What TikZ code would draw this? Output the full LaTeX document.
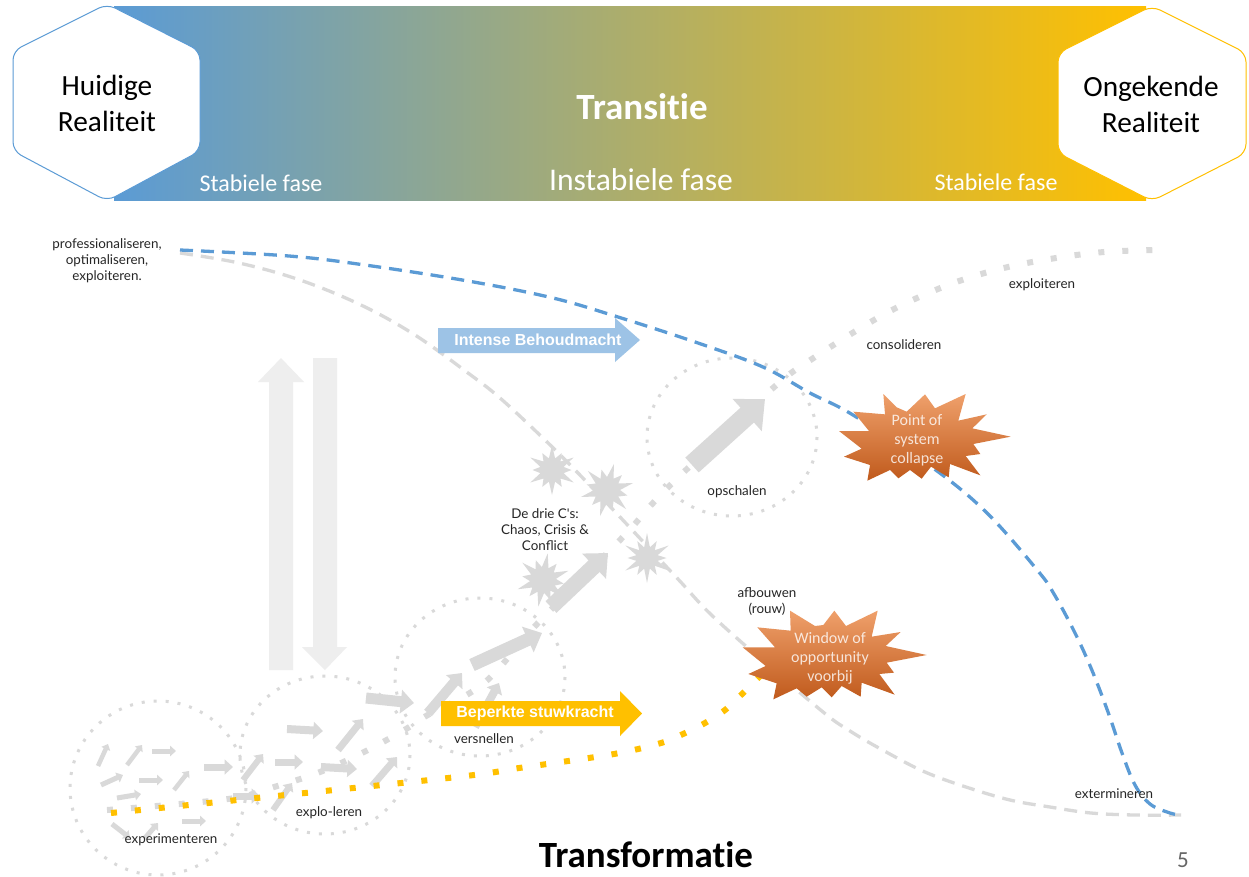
\documentclass[tikz,border=0pt]{standalone}
\usepackage{fontspec}
\usetikzlibrary{arrows.meta}
\newfontfamily\carl[Ligatures=CommonOff]{Carlito}
\newfontfamily\lab{Lato}
\newfontfamily\ari{Liberation Sans}
\definecolor{bluec}{HTML}{5B9BD5}
\definecolor{lblue}{HTML}{9DC3E6}
\definecolor{yel}{HTML}{FFC000}
\definecolor{gr}{HTML}{D9D9D9}
\definecolor{lgr}{HTML}{EEEEEE}
\definecolor{ortop}{HTML}{EFA06B}
\definecolor{orbot}{HTML}{C05A1C}
\definecolor{txt}{HTML}{262626}
\tikzset{
  hexa/.style={fill=white,draw=#1,line width=1pt,rounded corners=9pt},
  big/.style={font=\carl\fontsize{29.3}{36}\selectfont,align=center,text=black},
  fase/.style={font=\carl\fontsize{24}{28}\selectfont,text=white,anchor=base},
  lbl/.style={font=\lab\fontsize{13.4}{16}\selectfont,align=center,text=txt,yshift=-1pt},
  curve/.style={line width=3.3pt,dash pattern=on 13pt off 8pt},
  sqdots/.style={line width=6pt,dash pattern=on 6pt off 18pt},
  ring/.style={draw=gr,line width=3pt,dash pattern=on 3pt off 9pt},
  burst/.style={top color=ortop,bottom color=orbot},
  bursttext/.style={font=\carl\fontsize{16}{19}\selectfont,align=center,text=white,text opacity=.8},
  barrowtext/.style={font=\ari\bfseries\fontsize{16}{19}\selectfont,text=white},
  ga/.style={draw=gr,line width=#1,-{Triangle[length=1.2*#1,width=2.1*#1]}},
}
\newcommand{\gstar}[5]{%
  \fill[gr] plot[samples at={0,...,23}] ({#1+(mod(\x,2)==0?(mod(\x,4)==0?#3:.78*#3):#4)*cos(#5+15*\x)},{#2+(mod(\x,2)==0?(mod(\x,4)==0?#3:.78*#3):#4)*sin(#5+15*\x)}) -- cycle;}
\begin{document}
\begin{tikzpicture}[x=1pt,y=-1pt]
\useasboundingbox (0,0) rectangle (1249,876);
\fill[white] (0,0) rectangle (1249,876);

% top band
\fill[left color=bluec,right color=yel] (114,6) rectangle (1146,200);
\draw[hexa=bluec] (107,4) -- (200,51) -- (200,151) -- (107,201) -- (13,151) -- (13,51) -- cycle;
\draw[hexa=yel] (1152,6) -- (1246,53) -- (1246,153) -- (1152,201) -- (1058,153) -- (1058,53) -- cycle;
\node[big] (cur) at (107,103) {Huidige\\Realiteit};
\node[big] (new) at (1151,104) {Ongekende\\Realiteit};
\node[font=\carl\bfseries\fontsize{37}{42}\selectfont,text=white] (tr) at (642,107) {Transitie};
\node[fase] (s1) at (261,191) {Stabiele fase};
\node[fase,font=\carl\fontsize{31.6}{36}\selectfont] (i1) at (641,190) {Instabiele fase};
\node[fase] (s2) at (996,190) {Stabiele fase};

% big pale arrows
\fill[lgr] (269,670) -- (293,670) -- (293,382) -- (304,382) -- (281,358) -- (258,382) -- (269,382) -- cycle;
\fill[lgr] (313,358) -- (337,358) -- (337,647) -- (347,647) -- (325,670) -- (302,647) -- (313,647) -- cycle;

% rings
\draw[ring] (158,788) ellipse [x radius=88,y radius=87];
\draw[ring] (325,755) ellipse [x radius=85,y radius=79];
\draw[ring] (480,677) ellipse [x radius=85,y radius=79];
\draw[ring] (732,437) ellipse [x radius=85,y radius=79];

% curves
\coordinate (gs) at (180,253);
\coordinate (ge) at (1181,815);
\coordinate (bs) at (180,250);
\coordinate (be) at (1181,815);
\draw[gr,curve] plot[smooth,tension=.6] coordinates {(gs) (239,263) (300,280) (361,305) (415,335) (468,373) (500,398) (545,440) (577,472) (620,517) (677,578) (720,623) (817,707) (850,731) (888,753) (925,772) (966,787) (1010,800) (1050,807) (1091,813) (1135,815) (ge)};
\draw[gr,sqdots] plot[smooth,tension=.6] coordinates {(107,810) (228,799) (274,787) (320,772) (364,752) (406,729) (426,716) (484,683) (537,624) (621,539) (653,503) (687,469) (773,388) (812,359) (874,320) (917,298) (962,280) (1008,267) (1056,258) (1104,252) (1153,250)};

% grey arrows
\foreach \a/\b/\c/\d/\w in {
 98/766/108/744/4.5, 127/765/142/745/4.5, 152/751/176/751/5, 101/785/123/775/5, 139/780/163/780/5,
 174/790/189/771/4.5, 117/798/141/794/5, 204/767/233/767/7, 182/821/206/821/5,
 112/824/130/838/5, 145/838/158/823/5, 243/780/263/754/6, 233/796/260/796/7, 275/762/303/762/7,
 273/810/292/783/6, 287/729/323/731/8, 321/767/357/769/8, 338/750/363/719/7,
 366/698/414/703/11, 372/786/397/757/7, 428/713/462/673/10, 475/727/499/683/8, 472/665/542/633/13,
 551/607/608/553/16, 692/465/765/399/20}{
  \draw[ga=\w pt] (\a,\b) -- (\c,\d);
}

% gray stars
\gstar{552}{470}{25}{12}{-90}
\gstar{607}{490}{27}{13}{-75}
\gstar{647}{558}{25}{11}{-90}
\gstar{543}{580}{27}{13}{-80}

% blue and yellow lines
\draw[bluec,curve] plot[smooth,tension=.6] coordinates {(bs) (289,256) (365,265) (468,281) (553,298) (618,317) (698,343) (763,367) (810,393) (853,415) (933,468) (987,513) (1038,571) (1054,594) (1074,631) (1091,668) (1108,712) (1122,753) (1135,785) (1150,804) (1170,813) (be)};
\draw[yel,sqdots] plot[smooth,tension=.5] coordinates {(111,813) (448,778) (519,768) (614,754) (661,743) (683,734) (705,723) (725,710) (742,694) (760,676)};

% bursts
\begin{scope}[shift={(720,370)},scale=1/3]
\path[burst] (490,72)--(530,112)--(560,125)--(615,73)--(645,115)--(737,72)--(715,152)--(800,133)--(757,175)--(872,200)--(760,222)--(781,252)--(737,258)--(781,316)--(690,282)--(686,322)--(633,290)--(605,326)--(570,300)--(535,325)--(510,300)--(442,332)--(450,285)--(372,260)--(425,236)--(357,183)--(447,183)--(400,125)--(495,133)--cycle;
\path[burst] (210,722)--(285,768)--(310,765)--(343,722)--(378,768)--(473,722)--(455,800)--(542,786)--(497,828)--(620,855)--(500,878)--(522,908)--(478,912)--(524,974)--(425,938)--(422,980)--(365,948)--(335,982)--(305,952)--(260,980)--(230,955)--(160,988)--(170,940)--(85,912)--(137,888)--(68,832)--(165,832)--(112,772)--(212,782)--cycle;
\end{scope}
\node[bursttext] (psc) at (917,440) {Point of\\system\\collapse};
\node[bursttext] (win) at (830,658) {Window of\\opportunity\\voorbij};

% force arrows
\fill[lblue] (438,328) -- (615,328) -- (615,318) -- (640,340) -- (615,362) -- (615,353) -- (438,353) -- cycle;
\node[barrowtext] (ib) at (538,340) {Intense Behoudmacht};
\fill[yel] (441,701) -- (620,701) -- (620,691) -- (642,713.5) -- (620,736) -- (620,726) -- (441,726) -- cycle;
\node[barrowtext] (bs2) at (535,713.5) {Beperkte stuwkracht};

% labels
\node[lbl] (l1) at (107,260) {professionaliseren,\\optimaliseren,\\exploiteren.};
\node[lbl] (l2) at (1042,284) {exploiteren};
\node[lbl] (l3) at (904,344) {consolideren};
\node[lbl] (l4) at (737,491) {opschalen};
\node[lbl] (l5) at (545,529) {De drie C's:\\Chaos, Crisis \&\\Conflict};
\node[lbl] (l6) at (767,600) {afbouwen\\(rouw)};
\node[lbl] (l7) at (484,738) {versnellen};
\node[lbl] (l8) at (329,812) {explo-leren};
\node[lbl] (l9) at (171,839) {experimenteren};
\node[lbl] (l10) at (1114,793) {extermineren};
\node[font=\carl\bfseries\fontsize{37}{42}\selectfont,text=black] (tf) at (646,855) {Transformatie};
\node[font=\carl\fontsize{23}{26}\selectfont,text=black!60] (pg) at (1183,860) {5};
\end{tikzpicture}
\end{document}
